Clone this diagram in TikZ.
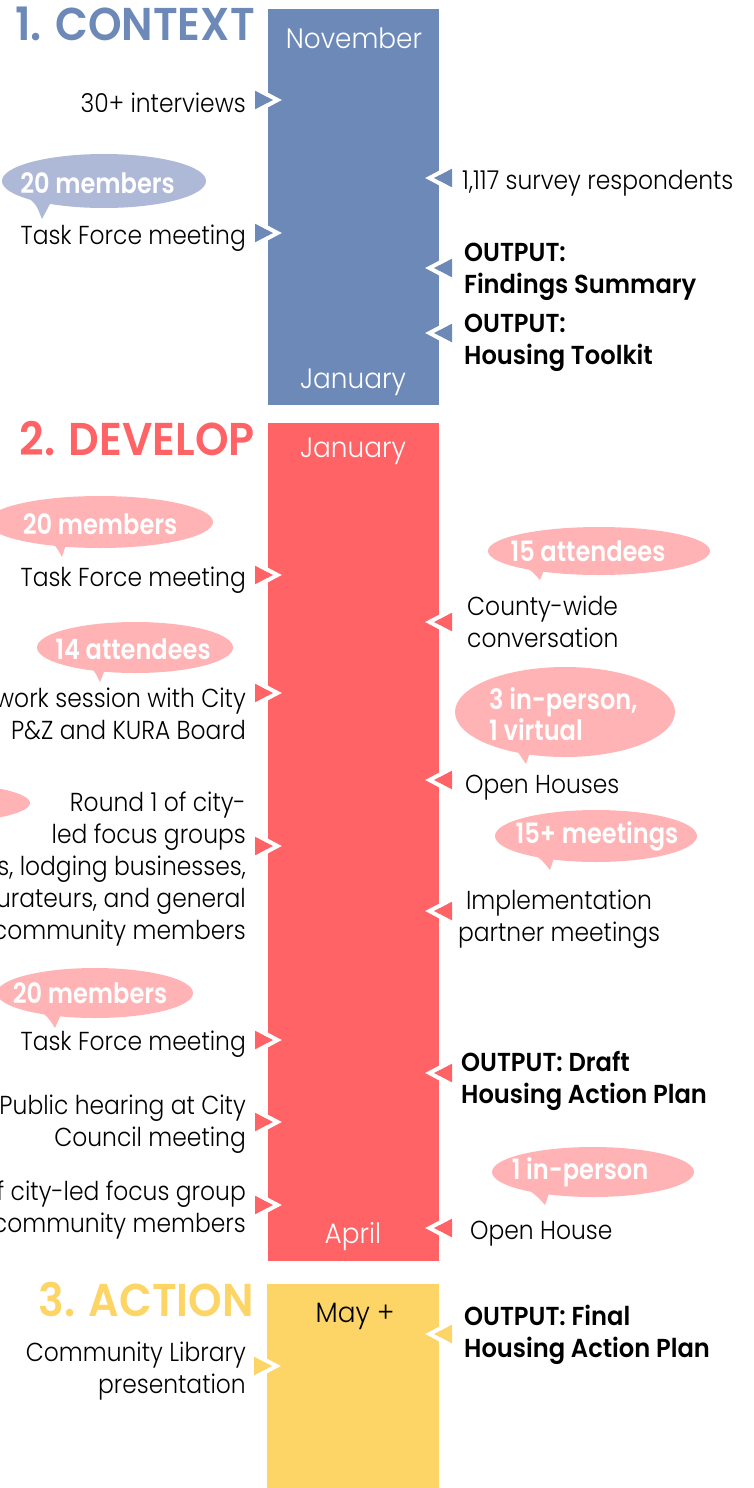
\documentclass[tikz,border=0pt]{standalone}
\usepackage{fontspec}
\usetikzlibrary{shapes.geometric}
\IfFontExistsTF{Poppins Light}{\newfontfamily\fl{Poppins Light}[FakeStretch=0.9]\newfontfamily\flm{Poppins Light}[FakeStretch=0.94]}{\newfontfamily\fl{Poppins}[FakeStretch=0.88]\newfontfamily\flm{Poppins}[FakeStretch=0.92]}
\IfFontExistsTF{Poppins SemiBold}{\newfontfamily\fb{Poppins SemiBold}[FakeStretch=0.93]\newfontfamily\fbb{Poppins SemiBold}[FakeStretch=0.86]\newfontfamily\fm{Poppins SemiBold}[FakeStretch=0.93]}{\newfontfamily\fbx{Poppins}[FakeStretch=0.93]\newcommand\fb{\fbx\bfseries}\newfontfamily\fbbx{Poppins}[FakeStretch=0.86]\newcommand\fbb{\fbbx\bfseries}\newcommand\fm{\fbx\bfseries}}
\definecolor{cblue}{HTML}{6C89B8}
\definecolor{cbluel}{HTML}{AEB9D8}
\definecolor{cred}{HTML}{FF6366}
\definecolor{cpink}{HTML}{FFB3B5}
\definecolor{cyel}{HTML}{FDD567}
\tikzset{
  pics/larr/.style={code={
    \fill[#1] (-13,-9.5) -- (5,0) -- (-13,9.5) -- cycle;
    \draw[white, line width=4pt] (-12,-11.4) -- (9.5,0) -- (-12,11.4);}},
  bar/.style={draw=none, inner sep=0, anchor=north west},
  lt/.style={font=\fl\fontsize{26}{32}\selectfont, inner sep=0, text=black},
  ltl/.style={lt, anchor=east, align=right},
  ltr/.style={lt, anchor=west, align=left},
  bd/.style={font=\fb\fontsize{26}{32}\selectfont, inner sep=0, anchor=west, align=left, text=black},
  month/.style={font=\flm\fontsize{28}{32}\selectfont, text=white, inner sep=0},
  head/.style={font=\fm\fontsize{46}{50}\selectfont, anchor=east, inner sep=0},
  bub/.style={ellipse, inner sep=0, draw=none},
  btext/.style={inner sep=0, text=white, font=\fbb\fontsize{28}{31}\selectfont},
}
\begin{document}
\begin{tikzpicture}[x=1pt, y=-1pt]
\useasboundingbox (0,0) rectangle (753,1488);
\clip (0,0) rectangle (753,1488);
% bars
\node[bar, fill=cblue, minimum width=171pt, minimum height=396pt] (bar1) at (268,9) {};
\node[bar, fill=cred, minimum width=171pt, minimum height=838pt] (bar2) at (268,423) {};
\node[bar, fill=cyel, minimum width=172pt, minimum height=206pt] (bar3) at (267,1284) {};
% headings
\node[head, text=cblue] (h1) at (255,24) {1. CONTEXT};
\node[head, text=cred] (h2) at (255,438.5) {2. DEVELOP};
\node[head, text=cyel] (h3) at (254,1299) {3. ACTION};
% months
\node[month] (m1) at (354,38) {November};
\node[month] (m2) at (353,382) {January};
\node[month] (m3) at (353,451) {January};
\node[month] (m4) at (353,1237) {April};
\node[month, text=black] (m5) at (355,1316) {May +};
% ---- section 1
\node[ltl] (t1) at (246,103) {30+ interviews};
\fill[cbluel] (26,196) .. controls (36,204) .. (42,219) -- (52,200) -- cycle;
\node[bub, fill=cbluel, minimum width=204pt, minimum height=54pt] (b1) at (104,181) {};
\node[btext] (b1t) at (97.5,183) {20 members};
\node[ltl] (t2) at (246,238) {Task Force meeting};
\pic at (268,100) {larr=cblue};
\pic at (268,233) {larr=cblue};
\node[ltr] (r1) at (462,183) {1,117 survey respondents};
\node[bd] (r2) at (464,271.5) {OUTPUT:\\Findings Summary};
\node[bd] (r3) at (464,343) {OUTPUT:\\Housing Toolkit};
\pic[xscale=-1] at (439,178) {larr=cblue};
\pic[xscale=-1] at (439,268) {larr=cblue};
\pic[xscale=-1] at (439,333) {larr=cblue};
% ---- section 2 left
\fill[cpink] (46,538) .. controls (56,546) .. (62,557) -- (68,538) -- cycle;
\node[bub, fill=cpink, minimum width=226pt, minimum height=52pt] (b2) at (100,522) {};
\node[btext] (b2t) at (100,524) {20 members};
\node[ltl] (t3) at (246,580) {Task Force meeting};
\fill[cpink] (84,662) .. controls (94,670) .. (100,682) -- (108,662) -- cycle;
\node[bub, fill=cpink, minimum width=196pt, minimum height=51pt] (b3) at (135,647.5) {};
\node[btext] (b3t) at (133,649) {14 attendees};
\node[ltl] (t4) at (246,713.5) {work session with City\\P\&Z and KURA Board};
\fill[cpink] (-70,803) ellipse [x radius=100, y radius=20];
\node[ltl] (t5) at (246,869) {Round 1 of city-\\led focus groups\\s, lodging businesses,\\urateurs, and general\\community members};
\fill[cpink] (36,1008) .. controls (48,1017) .. (55,1028) -- (64,1008) -- cycle;
\node[bub, fill=cpink, minimum width=196pt, minimum height=50pt] (b5) at (95,993) {};
\node[btext] (b5t) at (90,993) {20 members};
\node[ltl] (t6) at (246,1044) {Task Force meeting};
\node[ltl] (t7) at (246,1124) {Public hearing at City\\Council meeting};
\node[ltl] (t8) at (246,1210) {f city-led focus group\\community members};
\pic at (268,575) {larr=cred};
\pic at (268,693) {larr=cred};
\pic at (268,846) {larr=cred};
\pic at (268,1040) {larr=cred};
\pic at (268,1122) {larr=cred};
\pic at (268,1205) {larr=cred};
% ---- section 2 right
\fill[cpink] (521,565) .. controls (532,571) .. (540,580) -- (546,565) -- cycle;
\node[bub, fill=cpink, minimum width=222pt, minimum height=48pt] (rb1) at (599,551) {};
\node[btext] (rb1t) at (588,551) {15 attendees};
\node[ltr] (r4) at (467,621.5) {County-wide\\conversation};
\fill[cpink] (508,740) .. controls (518,752) .. (526,764) -- (534,740) -- cycle;
\node[bub, fill=cpink, minimum width=220pt, minimum height=90pt] (rb2) at (565,712) {};
\node[btext, anchor=west, align=left] (rb2t) at (489,714) {3 in-person,\\1 virtual};
\node[ltr] (r5) at (465,788) {Open Houses};
\fill[cpink] (531,852) .. controls (542,860) .. (550,870) -- (556,852) -- cycle;
\node[bub, fill=cpink, minimum width=202pt, minimum height=52pt] (rb3) at (596,836) {};
\node[btext] (rb3t) at (597,836) {15+ meetings};
\node[lt, align=center] (r6) at (559,919) {Implementation\\partner meetings};
\node[bd] (r7) at (461,1081) {OUTPUT: Draft\\Housing Action Plan};
\fill[cpink] (526,1188) .. controls (537,1196) .. (545,1205) -- (551,1188) -- cycle;
\node[bub, fill=cpink, minimum width=202pt, minimum height=50pt] (rb4) at (593,1172) {};
\node[btext] (rb4t) at (580,1172) {1 in-person};
\node[ltr] (r8) at (470,1234) {Open House};
\pic[xscale=-1] at (439,622) {larr=cred};
\pic[xscale=-1] at (439,780) {larr=cred};
\pic[xscale=-1] at (439,911) {larr=cred};
\pic[xscale=-1] at (439,1073) {larr=cred};
\pic[xscale=-1] at (439,1228) {larr=cred};
% ---- section 3
\node[ltl] (t9) at (246,1371) {Community Library\\presentation};
\node[bd] (r9) at (464,1335) {OUTPUT: Final\\Housing Action Plan};
\pic at (267,1366) {larr=cyel};
\pic[xscale=-1] at (439,1334) {larr=cyel};
\end{tikzpicture}
\end{document}
